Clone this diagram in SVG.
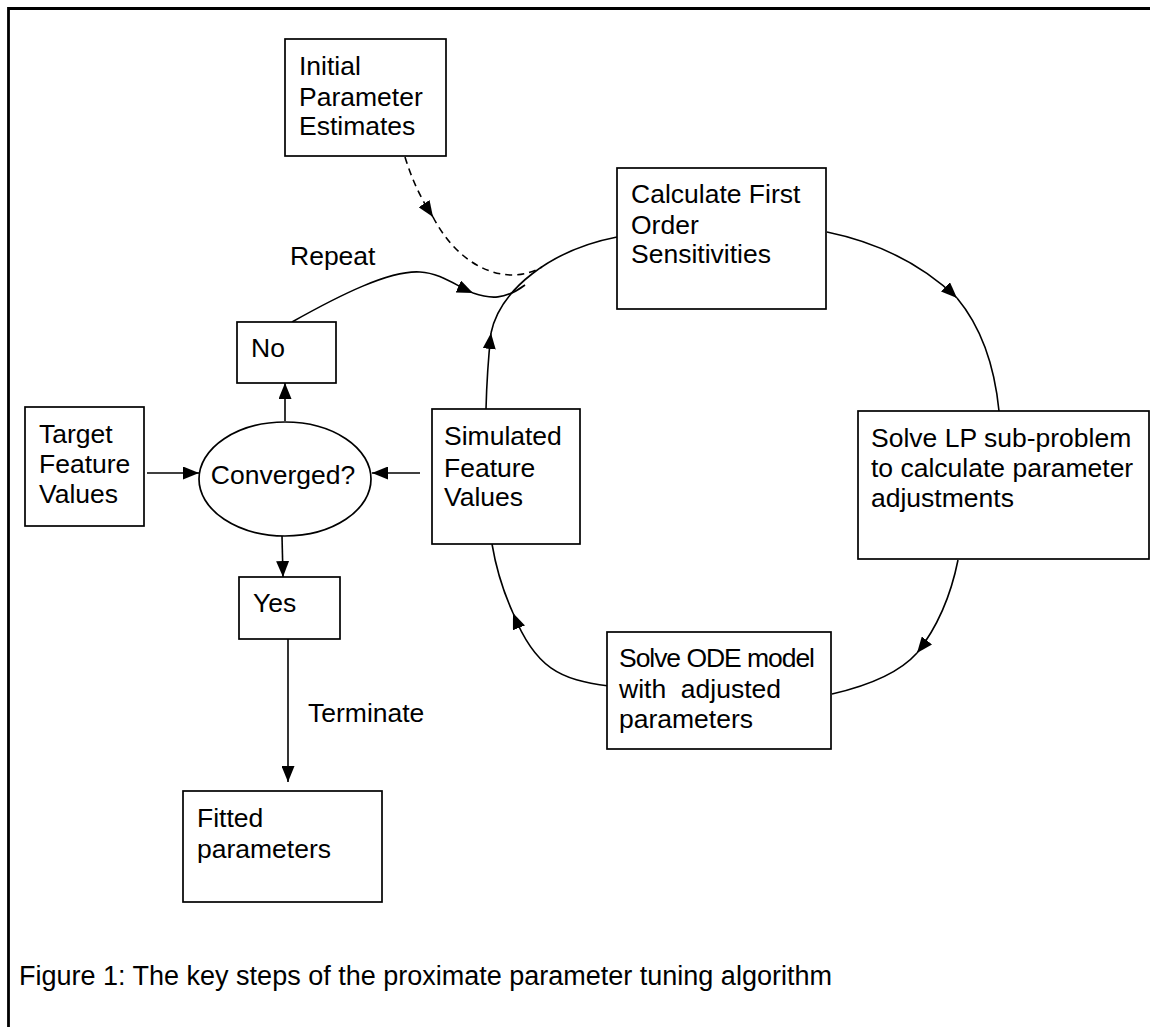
<svg xmlns="http://www.w3.org/2000/svg" width="1150" height="1027" viewBox="0 0 1150 1027">
<defs>
<style>
text{font-family:"Liberation Sans",Arial,sans-serif;font-size:26.5px;fill:#000}
.cap{font-size:27px}
.box{fill:#fff;stroke:#000;stroke-width:1.7}
.c{fill:none;stroke:#000;stroke-width:1.6}
.d{fill:none;stroke:#000;stroke-width:1.6;stroke-dasharray:7 5}
</style>
<marker id="ah" markerUnits="userSpaceOnUse" markerWidth="17" markerHeight="13" refX="16" refY="6.5" orient="auto">
<path d="M0,0 L16,6.5 L0,13 Z" fill="#000"/>
</marker>
</defs>
<rect width="1150" height="1027" fill="#fff"/>
<path d="M8.5,1027 L8.5,8.5 L1150,8.5" fill="none" stroke="#000" stroke-width="2.8"/>

<g id="connectors">
<path class="c" d="M827,232 Q905,248 957,298" marker-end="url(#ah)"/>
<path class="c" d="M957,298 Q992,340 999,411"/>
<path class="c" d="M958,560 Q947,615 917,653" marker-end="url(#ah)"/>
<path class="c" d="M917,653 Q893,680 832,694"/>
<path class="c" d="M609,686 C560,680 535,668 513,613" marker-end="url(#ah)"/>
<path class="c" d="M513,613 Q498,580 492,544"/>
<path class="c" d="M486,409 Q487,370 491,333" marker-end="url(#ah)"/>
<path class="c" d="M491,333 C500,290 550,250 617,237"/>
<path class="c" d="M292,322 C340,295 390,270 420,272 C440,273 455,285 473,293" marker-end="url(#ah)"/>
<path class="c" d="M473,293 C490,299 505,300 525,285"/>
<path class="d" d="M405,157 Q415,190 433,217" marker-end="url(#ah)"/>
<path class="d" d="M433,217 C450,250 480,276 515,275 Q530,274 542,267"/>
<path class="c" d="M147,473 L199,473" marker-end="url(#ah)"/>
<path class="c" d="M420,473 L372,473" marker-end="url(#ah)"/>
<path class="c" d="M285,421 L285,383" marker-end="url(#ah)"/>
<path class="c" d="M282,536 L283,577" marker-end="url(#ah)"/>
<path class="c" d="M288,639 L288,782" marker-end="url(#ah)"/>
</g>

<g id="initial">
<rect class="box" x="285" y="39" width="161" height="117"/>
<text x="299" y="75">Initial</text>
<text x="299" y="106">Parameter</text>
<text x="299" y="135">Estimates</text>
</g>
<g id="calc">
<rect class="box" x="617" y="168" width="209" height="141"/>
<text x="631" y="203">Calculate First</text>
<text x="631" y="234">Order</text>
<text x="631" y="263">Sensitivities</text>
</g>
<g id="lp">
<rect class="box" x="858" y="411" width="291" height="148"/>
<text x="871" y="447">Solve LP sub-problem</text>
<text x="871" y="477">to calculate parameter</text>
<text x="871" y="507">adjustments</text>
</g>
<g id="ode">
<rect class="box" x="607" y="632" width="224" height="117"/>
<text x="619" y="667" textLength="196" lengthAdjust="spacing">Solve ODE model</text>
<text x="619" y="698" xml:space="preserve">with  adjusted</text>
<text x="619" y="728">parameters</text>
</g>
<g id="simulated">
<rect class="box" x="432" y="409" width="148" height="135"/>
<text x="444" y="445">Simulated</text>
<text x="444" y="477">Feature</text>
<text x="444" y="506">Values</text>
</g>
<g id="target">
<rect class="box" x="25" y="407" width="119" height="119"/>
<text x="39" y="443">Target</text>
<text x="39" y="473">Feature</text>
<text x="39" y="503">Values</text>
</g>
<g id="converged">
<ellipse class="box" cx="285" cy="479" rx="86" ry="57"/>
<text x="283" y="484" text-anchor="middle">Converged?</text>
</g>
<g id="no">
<rect class="box" x="237" y="322" width="99" height="61"/>
<text x="251" y="357">No</text>
</g>
<g id="yes">
<rect class="box" x="239" y="577" width="101" height="62"/>
<text x="253" y="612">Yes</text>
</g>
<g id="fitted">
<rect class="box" x="183" y="791" width="199" height="111"/>
<text x="197" y="827">Fitted</text>
<text x="197" y="858">parameters</text>
</g>
<g id="labels">
<text x="290" y="265">Repeat</text>
<text x="308" y="722">Terminate</text>
<text class="cap" x="19" y="985">Figure 1: The key steps of the proximate parameter tuning algorithm</text>
</g>
</svg>
